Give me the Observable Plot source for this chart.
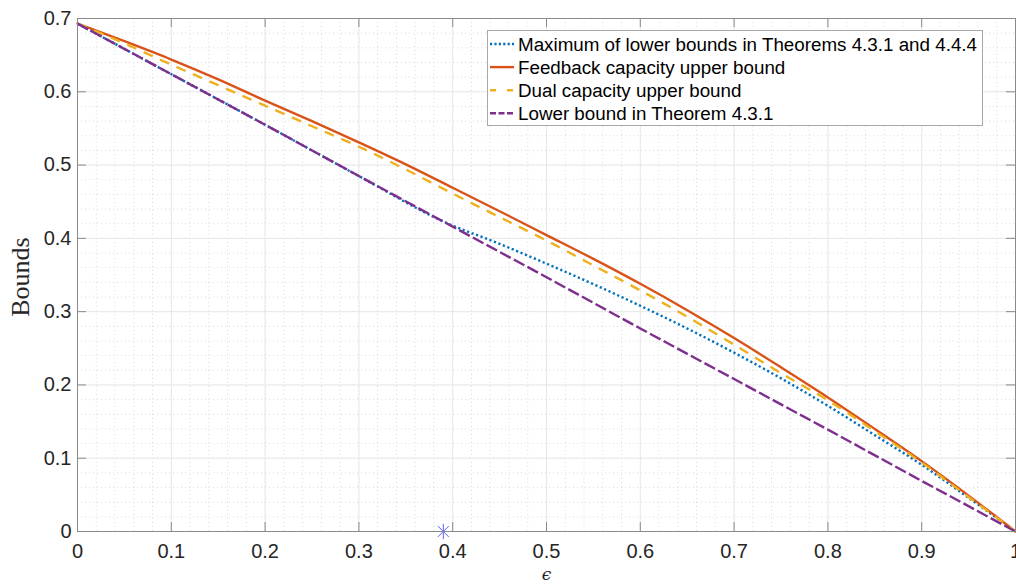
<!DOCTYPE html>
<html><head><meta charset="utf-8">
<script src="https://cdn.jsdelivr.net/npm/d3@7"></script>
<script src="https://cdn.jsdelivr.net/npm/@observablehq/plot@0.6"></script>
<style>body{margin:0;background:#fff;} svg{display:block;}</style>
</head><body><div id="chart"></div>
<script>
// ---- data ----
const epsGrid = [0,0.05,0.1,0.15,0.2,0.25,0.3,0.35,0.4,0.45,0.5,0.55,0.6,0.65,0.7,0.75,0.8,0.85,0.9,0.95,1];
const feedbackUpper = [0.693,0.669,0.644,0.617,0.588,0.560,0.531,0.501,0.469,0.437,0.4045,0.372,0.338,0.302,0.264,0.224,0.183,0.140,0.096,0.049,0];
const dualUpper =     [0.693,0.666,0.637,0.609,0.581,0.553,0.525,0.494,0.461,0.429,0.397,0.363,0.329,0.293,0.255,0.216,0.179,0.137,0.094,0.047,0];
const epsMaxLower = [0,0.1,0.2,0.3,0.39,0.45,0.5,0.55,0.6,0.65,0.7,0.75,0.8,0.85,0.9,0.95,1];
const maxLower =    [0.693,0.624,0.555,0.485,0.423,0.3925,0.3655,0.3375,0.308,0.277,0.244,0.209,0.1715,0.1315,0.091,0.046,0];
const epsLower = [0,0.1,0.2,0.3,0.4,0.5,0.6,0.7,0.8,0.9,1];
const lowerThm431 = [0.693,0.624,0.555,0.485,0.416,0.347,0.277,0.208,0.139,0.069,0];
const markerEps = [0.39];
const markerVal = [0];
const seriesNames = ["Maximum of lower bounds in Theorems 4.3.1 and 4.4.4","Feedback capacity upper bound","Dual capacity upper bound","Lower bound in Theorem 4.3.1"];
const xTicks = [0,0.1,0.2,0.3,0.4,0.5,0.6,0.7,0.8,0.9,1];
const xTickLabels = ["0","0.1","0.2","0.3","0.4","0.5","0.6","0.7","0.8","0.9","1"];
const yTicks = [0,0.1,0.2,0.3,0.4,0.5,0.6,0.7];
const yTickLabels = ["0","0.1","0.2","0.3","0.4","0.5","0.6","0.7"];
const xLabel = "ϵ";
const yLabel = "Bounds";

// ---- styles ----
const colors = ["#0072BD","#D95319","#EDB120","#7E2F8E"];
const dashes = ["2.2,2.6", null, "10,8", "12,3.5"];
const legendDashes = ["2.2,2.2", null, "6,11", "6,2.5"];
const lw = 2.4;

const rows = (xs, ys) => xs.map((x, i) => ({x, y: ys[i]}));
const sMax = rows(epsMaxLower, maxLower);
const sFb = rows(epsGrid, feedbackUpper);
const sDual = rows(epsGrid, dualUpper);
const sLow = rows(epsLower, lowerThm431);
const marker = rows(markerEps, markerVal);

const W = 1016, H = 585, mL = 77, mR = 1, mT = 18, mB = 54;
const innerW = W - mL - mR, innerH = H - mT - mB, tk = 9;
const xMinor = d3.range(0, 51).map(i => i / 50);
const yMinor = d3.range(0, 36).map(i => i / 50);
const axisCol = "#8a8a8a";
const sans = "'Liberation Sans', Arial, Helvetica, sans-serif";

const plot = Plot.plot({
  width: W, height: H, marginLeft: mL, marginRight: mR, marginTop: mT, marginBottom: mB,
  style: {fontFamily: sans, fontSize: "20px", color: "#262626", background: "#fff"},
  x: {domain: [0, 1]},
  y: {domain: [0, 0.7]},
  marks: [
    Plot.ruleX(xMinor, {stroke: "#dadada", strokeDasharray: "1,3", strokeWidth: 1}),
    Plot.ruleY(yMinor, {stroke: "#dadada", strokeDasharray: "1,3", strokeWidth: 1}),
    Plot.ruleX(xTicks, {stroke: "#e8e8e8", strokeWidth: 1}),
    Plot.ruleY(yTicks, {stroke: "#e8e8e8", strokeWidth: 1}),
    Plot.line(sMax, {x: "x", y: "y", stroke: colors[0], strokeWidth: lw, strokeDasharray: dashes[0], strokeLinecap: "butt", curve: "monotone-x"}),
    Plot.line(sFb, {x: "x", y: "y", stroke: colors[1], strokeWidth: lw, curve: "monotone-x"}),
    Plot.line(sDual, {x: "x", y: "y", stroke: colors[2], strokeWidth: lw, strokeDasharray: dashes[2], strokeLinecap: "butt", curve: "monotone-x"}),
    Plot.line(sLow, {x: "x", y: "y", stroke: colors[3], strokeWidth: lw, strokeDasharray: dashes[3], strokeLinecap: "butt", curve: "linear"}),
    Plot.dot(marker, {x: "x", y: "y", symbol: "plus", r: 5, stroke: "#6060ff", strokeWidth: 1}),
    Plot.dot(marker, {x: "x", y: "y", symbol: "times", r: 5, stroke: "#6060ff", strokeWidth: 1}),
    Plot.frame({stroke: axisCol, strokeWidth: 1}),
    Plot.ruleX(xTicks, {stroke: axisCol, insetTop: innerH - tk}),
    Plot.ruleX(xTicks, {stroke: axisCol, insetBottom: innerH - tk}),
    Plot.ruleY(yTicks, {stroke: axisCol, insetRight: innerW - tk}),
    Plot.ruleY(yTicks, {stroke: axisCol, insetLeft: innerW - tk}),
    Plot.axisX({ticks: xTicks, tickSize: 0, tickPadding: 12, fontSize: 20, label: null,
      tickFormat: d => xTickLabels[xTicks.indexOf(d)]}),
    Plot.axisY({ticks: yTicks, tickSize: 0, tickPadding: 6, fontSize: 20, label: null,
      tickFormat: d => yTickLabels[yTicks.indexOf(d)]}),
    Plot.text([yLabel], {text: d => d, frameAnchor: "left", dx: -57, dy: 2, rotate: -90,
      textAnchor: "middle", lineAnchor: "middle",
      fontFamily: "'Liberation Serif', 'Times New Roman', serif", fontSize: 26, fill: "#262626"}),
    Plot.text([xLabel], {text: d => d, frameAnchor: "bottom", dy: 43,
      textAnchor: "middle", lineAnchor: "middle",
      fontFamily: "'DejaVu Serif', serif", fontStyle: "italic", fontSize: 17, fill: "#262626"})
  ]
});
document.getElementById("chart").appendChild(plot);

// ---- legend (inside the axes, top-right) ----
const svg = d3.select(plot);
const lg = svg.append("g").attr("text-anchor", "start");
lg.append("rect").attr("x", 487.5).attr("y", 30.5).attr("width", 495).attr("height", 95)
  .attr("fill", "#fff").attr("stroke", "#a8a8a8").attr("stroke-width", 1);
seriesNames.forEach((name, i) => {
  const cy = 44 + i * 23.1;
  const ln = lg.append("line").attr("x1", 490).attr("x2", 514).attr("y1", cy).attr("y2", cy)
    .attr("stroke", colors[i]).attr("stroke-width", lw).attr("fill", "none");
  if (legendDashes[i]) ln.attr("stroke-dasharray", legendDashes[i]);
  lg.append("text").attr("x", 518).attr("y", cy + 6.7).text(name)
    .attr("text-anchor", "start")
    .attr("font-family", sans).attr("font-size", 18.8).attr("fill", "#000");
});
</script>
</body></html>
